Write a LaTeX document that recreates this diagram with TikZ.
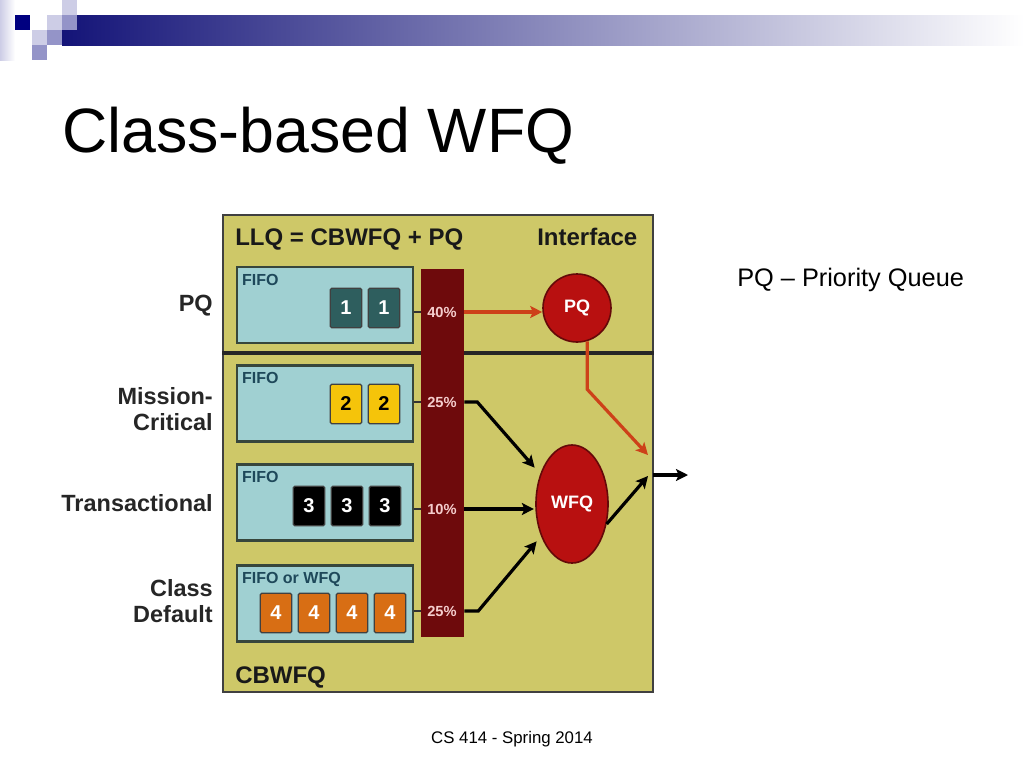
\documentclass[tikz,border=0pt]{standalone}
\usepackage{fontspec}
\setmainfont{Liberation Sans}
\usetikzlibrary{shapes.geometric, arrows, arrows.meta, positioning}

\definecolor{slidenavy}{RGB}{20,20,120}
\definecolor{slidegrey}{RGB}{158,158,176}
\definecolor{sqdark}{RGB}{0,0,128}
\definecolor{sqmid}{RGB}{148,148,200}
\definecolor{sqlight}{RGB}{205,205,230}
\definecolor{frameback}{RGB}{206,200,104}
\definecolor{queueback}{RGB}{160,208,210}
\definecolor{queueedge}{RGB}{55,70,60}
\definecolor{fifotext}{RGB}{30,72,90}
\definecolor{barred}{RGB}{110,10,12}
\definecolor{schedred}{RGB}{184,16,16}
\definecolor{sharetext}{RGB}{245,205,205}
\definecolor{pkteal}{RGB}{46,94,94}
\definecolor{pkyellow}{RGB}{245,196,10}
\definecolor{pkorange}{RGB}{216,110,20}
\definecolor{arrowred}{RGB}{205,65,25}

\tikzstyle{classlabel} = [inner sep=0pt, align=right, anchor=east, text=black!85, font=\bfseries\fontsize{17.6}{19.5}\selectfont]
\tikzstyle{headline} = [inner sep=0pt, anchor=base west, text=black!90, font=\bfseries\fontsize{18}{20}\selectfont]
\tikzstyle{queue} = [rectangle, minimum width=132pt, minimum height=57pt, draw=queueedge, line width=1.8pt, fill=queueback]
\tikzstyle{fifo} = [inner sep=0pt, anchor=north west, text=fifotext, font=\bfseries\fontsize{12}{12}\selectfont]
\tikzstyle{packet} = [rectangle, rounded corners=1pt, minimum width=23.5pt, minimum height=29.5pt, inner sep=0pt, draw=black!75, line width=0.9pt, font=\bfseries\fontsize{15}{15}\selectfont]
\tikzstyle{pkone} = [packet, fill=pkteal, text=white]
\tikzstyle{pktwo} = [packet, fill=pkyellow, text=black]
\tikzstyle{pkthree} = [packet, fill=black, text=white]
\tikzstyle{pkfour} = [packet, fill=pkorange, text=white]
\tikzstyle{share} = [inner sep=0pt, text=sharetext, font=\bfseries\fontsize{11}{11}\selectfont]
\tikzstyle{sched} = [fill=schedred, draw=schedred!55!black, line width=1.2pt, inner sep=0pt, text=white, font=\bfseries\fontsize{13.5}{13.5}\selectfont]
\tikzstyle{stub} = [line width=2pt, draw=black!80]
\tikzstyle{arrow} = [line width=2.4pt,->,>={Stealth[length=9pt,width=9pt,inset=2pt]}]
\tikzstyle{redarrow} = [arrow, draw=arrowred]

\begin{document}
\begin{tikzpicture}[x=0.75pt, y=-0.75pt, node distance=28.5pt]
		\useasboundingbox (0,0) rectangle (1024,768);
		\fill[white] (0,0) rectangle (1024,768);

		% slide header
		\shade[left color=sqlight, right color=white] (0,0) rectangle (15,60);
		\shade[left color=slidenavy, middle color=slidegrey, right color=white] (62,15) rectangle (1024,45);
		\fill[sqdark] (15,15) rectangle (30,30);
		\fill[sqlight] (47,15) rectangle (62,30);
		\fill[sqmid] (62,15) rectangle (77,30);
		\fill[sqlight] (62,0) rectangle (77,15);
		\fill[sqlight] (32,30) rectangle (47,45);
		\fill[sqmid] (47,30) rectangle (62,45);
		\fill[sqmid] (32,45) rectangle (47,60);

		\node (title) [inner sep=0pt, anchor=base west, font=\fontsize{47}{56}\selectfont] at (62,152) {Class-based WFQ};
		\node (note) [inner sep=0pt, anchor=base west, font=\fontsize{19}{23}\selectfont] at (737,286) {PQ – Priority Queue};
		\node (foot) [inner sep=0pt, anchor=base, font=\fontsize{12.6}{15}\selectfont] at (512,743) {CS 414 - Spring 2014};

		% frame
		\node (frame) [rectangle, minimum width=322.5pt, minimum height=357.75pt, fill=frameback, draw=black!75, line width=1.5pt] at (438,453.5) {};
		\coordinate (div) at (438,353);
		\draw [line width=3pt, black!85] (frame.west |- div) -- (frame.east |- div);

		\node (llq) [headline] at (235,245) {LLQ = CBWFQ + PQ};
		\node (iface) [headline] at (537,245) {Interface};
		\node (cbwfq) [headline] at (235,683) {CBWFQ};

		% classes
		\node (lpq) [classlabel] at (213,306) {PQ};
		\node (lmc) [classlabel] at (213,409) {Mission-\\Critical};
		\node (ltr) [classlabel] at (213,503) {Transactional};
		\node (lcd) [classlabel] at (213,601) {Class\\Default};

		\node (q1) [queue] at (325,305) {};
		\node (q2) [queue] at (325,403.5) {};
		\node (q3) [queue] at (325,502.5) {};
		\node (q4) [queue] at (325,603.5) {};

		\node (f1) [fifo] at ([shift={(6,8)}]q1.north west) {FIFO};
		\node (f2) [fifo] at ([shift={(6,8)}]q2.north west) {FIFO};
		\node (f3) [fifo] at ([shift={(6,8)}]q3.north west) {FIFO};
		\node (f4) [fifo] at ([shift={(6,8)}]q4.north west) {FIFO or WFQ};

		\node (p11) [pkone] at (346,308) {1};
		\node (p12) [pkone, right of=p11] {1};

		\node (p21) [pktwo] at (346,404) {2};
		\node (p22) [pktwo, right of=p21] {2};

		\node (p31) [pkthree] at (309,506) {3};
		\node (p32) [pkthree, right of=p31] {3};
		\node (p33) [pkthree, right of=p32] {3};

		\node (p41) [pkfour] at (276,613) {4};
		\node (p42) [pkfour, right of=p41] {4};
		\node (p43) [pkfour, right of=p42] {4};
		\node (p44) [pkfour, right of=p43] {4};

		% bandwidth bar
		\node (bar) [rectangle, minimum width=32.25pt, minimum height=276pt, fill=barred, inner sep=0pt] at (442.5,453) {};
		\node (s1) [share] at (442,312) {40\%};
		\node (s2) [share] at (442,402) {25\%};
		\node (s3) [share] at (442,509) {10\%};
		\node (s4) [share] at (442,611) {25\%};

		\draw [stub] (q1.east |- s1) -- (s1 -| bar.west);
		\draw [stub] (q2.east |- s2) -- (s2 -| bar.west);
		\draw [stub] (q3.east |- s3) -- (s3 -| bar.west);
		\draw [stub] (q4.east |- s4) -- (s4 -| bar.west);

		% schedulers
		\node (pq) [sched, circle, minimum size=51pt] at (577,308) {PQ};
		\node (wfq) [sched, ellipse, minimum width=54pt, minimum height=88.5pt] at (572,504) {WFQ};

		\coordinate (pqin) at (648,455);
		\coordinate (wfqin) at (648,476);
		\coordinate (port) at (653,475);
		\coordinate (exit) at (688,475);

		\draw [redarrow] (s1 -| bar.east) -- (s1 -| pq.west);
		\draw [redarrow] (pq.-73) -- ++(0,48) -- (pqin);
		\draw [arrow] (s2 -| bar.east) -- ++(13,0) -- ([shift={(-6,-5)}]wfq.135);
		\draw [arrow] (s3 -| bar.east) -- ([xshift=-1pt]s3 -| wfq.west);
		\draw [arrow] (s4 -| bar.east) -- ++(14,0) -- ([shift={(-4,6)}]wfq.-135);
		\draw [arrow] (wfq.-30) -- (wfqin);
		\draw [arrow] (port) -- (exit);
			
\end{tikzpicture}
\end{document}
